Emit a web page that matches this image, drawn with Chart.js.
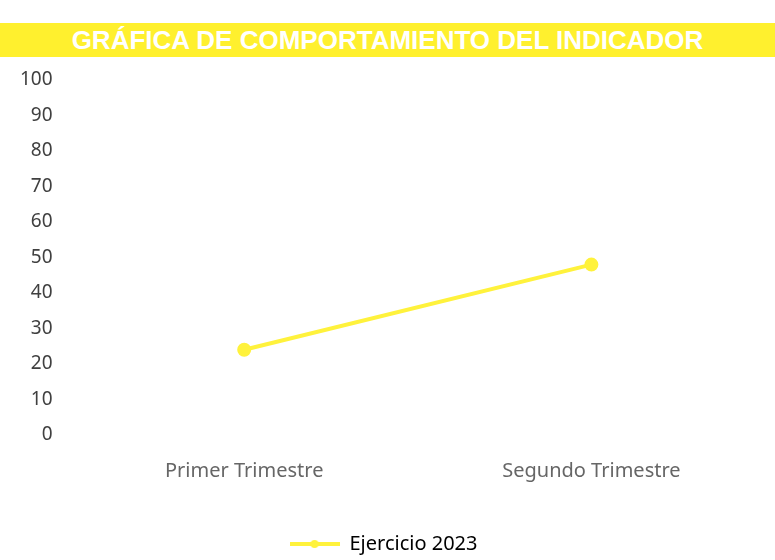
<!DOCTYPE html>
<html>
<head>
<meta charset="utf-8">
<script src="https://cdn.jsdelivr.net/npm/chart.js@4/dist/chart.umd.min.js"></script>
<style>
  body { margin: 0; background: #fff; }
  #wrap { position: relative; width: 775px; height: 560px; }
  #titulo {
    position: absolute; left: 0; top: 23px; width: 775px; height: 34px;
    background: #fff02e; color: #fff; text-align: center;
    font: bold 26px "Liberation Sans", Arial, sans-serif; line-height: 34px;
  }
</style>
</head>
<body>
<div id="wrap">
  <div id="titulo">GRÁFICA DE COMPORTAMIENTO DEL INDICADOR</div>
  <canvas id="chart-1" width="775" height="560"></canvas>
</div>
<script>
  const categorias = ['Primer Trimestre', 'Segundo Trimestre'];
  const ejercicio2023 = [24, 48];
  const serieNombre = 'Ejercicio 2023';
  const amarillo = '#fff23c';

  // marcador de la leyenda: linea con punto
  const marca = document.createElement('canvas');
  marca.width = 50; marca.height = 12;
  const m = marca.getContext('2d');
  m.strokeStyle = amarillo; m.lineWidth = 4;
  m.beginPath(); m.moveTo(0, 6); m.lineTo(50, 6); m.stroke();
  m.fillStyle = amarillo;
  m.beginPath(); m.arc(25, 6, 4, 0, Math.PI * 2); m.fill();

  const ctx = document.getElementById('chart-1').getContext('2d');
  new Chart(ctx, {
    type: 'line',
    data: {
      labels: categorias,
      datasets: [{
        label: serieNombre,
        data: ejercicio2023,
        borderColor: amarillo,
        backgroundColor: amarillo,
        borderWidth: 4,
        pointRadius: 5,
        pointStyle: 'circle',
        tension: 0
      }]
    },
    options: {
      responsive: false,
      animation: false,
      layout: { padding: { top: 80, left: 2, right: 10, bottom: -4 } },
      scales: {
        x: {
          offset: true,
          grid: { display: false, drawTicks: false },
          border: { display: false },
          ticks: { padding: 24, color: '#666', font: { family: 'Noto Sans', size: 20 } },
          afterFit: (scale) => { scale.height += 6; }
        },
        y: {
          min: 0, max: 100,
          grid: { display: false, drawTicks: false },
          border: { display: false },
          ticks: { stepSize: 10, padding: 18, color: '#404040', font: { family: 'Noto Sans', size: 19 } }
        }
      },
      plugins: {
        tooltip: { enabled: false },
        legend: {
          position: 'bottom',
          labels: {
            usePointStyle: true,
            pointStyleWidth: 50,
            padding: 21,
            color: '#222',
            font: { family: 'Noto Sans', size: 20 },
            generateLabels: (chart) => [{
              text: serieNombre,
              pointStyle: marca,
              fillStyle: amarillo,
              strokeStyle: amarillo,
              lineWidth: 0,
              datasetIndex: 0
            }]
          }
        }
      }
    }
  });
</script>
</body>
</html>
